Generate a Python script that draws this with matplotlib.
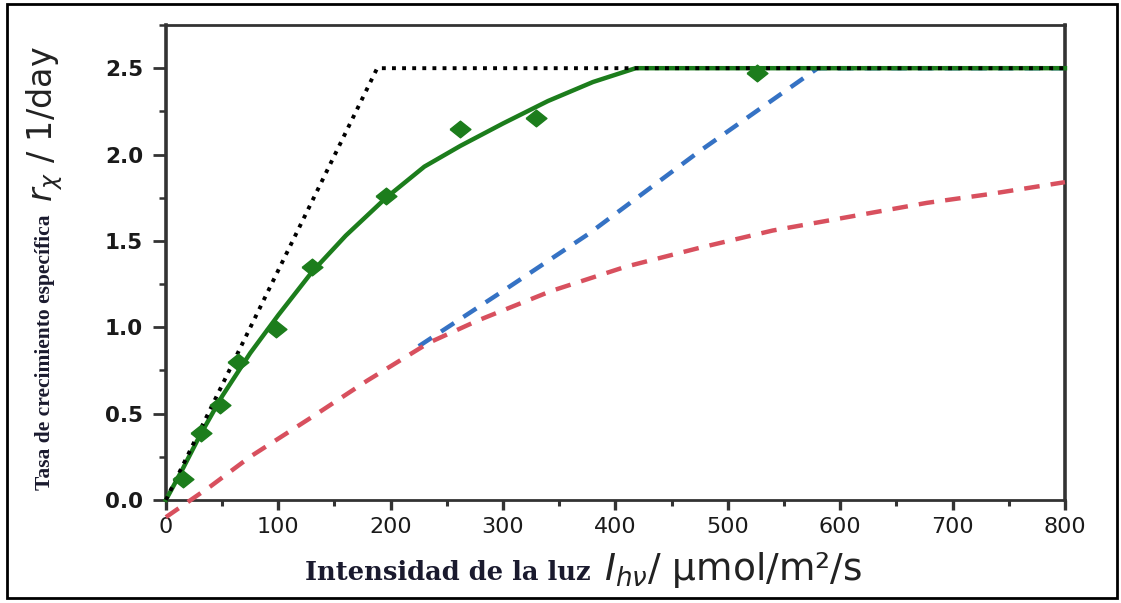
import matplotlib
matplotlib.use("Agg")
import matplotlib.pyplot as plt
from matplotlib.patches import Rectangle
from matplotlib.ticker import MultipleLocator, FormatStrFormatter

plt.rcParams["font.family"] = ["DejaVu Sans"]
plt.rcParams["mathtext.fontset"] = "dejavusans"

# measured points (green diamonds)
meas_I = [15, 31, 48, 64, 98, 130, 196, 262, 329, 526]
meas_r = [0.12, 0.39, 0.55, 0.80, 0.99, 1.35, 1.76, 2.15, 2.21, 2.47]

# fitted model (green solid)
fit_I = [0, 15, 30, 50, 75, 100, 130, 160, 196, 230, 262, 300, 340, 380, 418, 800]
fit_r = [0, 0.18, 0.37, 0.60, 0.85, 1.07, 1.32, 1.53, 1.75, 1.93, 2.05, 2.18, 2.31, 2.42, 2.5, 2.5]

# linear limit (black dotted)
lin_I = [0, 188, 800]
lin_r = [0, 2.5, 2.5]

# blue dashed model
blue_I = [225, 300, 376, 475, 580, 800]
blue_r = [0.89, 1.21, 1.54, 2.02, 2.5, 2.5]

# red dashed model
red_I = [0, 40, 75, 130, 179, 234, 278, 343, 409, 475, 540, 600, 677, 732, 800]
red_r = [-0.10, 0.08, 0.25, 0.48, 0.69, 0.91, 1.04, 1.21, 1.35, 1.46, 1.56, 1.63, 1.72, 1.77, 1.84]

green = "#1c7d1c"
blue = "#3572c4"
red = "#d8505e"

# slightly wide diamond, like the stretched original
diamond = [(-1.25, 0), (0, 1), (1.25, 0), (0, -1), (-1.25, 0)]

fig = plt.figure(figsize=(11.21, 6.03), dpi=100)
ax = fig.add_axes([0.148, 0.171, 0.802, 0.7875])

ax.plot(fit_I, fit_r, color=green, lw=3.2, zorder=3, clip_on=False)
ax.plot(blue_I, blue_r, color=blue, lw=3.2, ls=(0, (3.5, 2.5)), zorder=2, clip_on=False)
ax.plot(red_I, red_r, color=red, lw=3.2, ls=(0, (3.5, 2.5)), zorder=3, clip_on=False)
ax.plot(lin_I, lin_r, color="black", lw=2.8, ls=(0, (1, 1.6)), zorder=4, clip_on=False)
ax.plot(meas_I, meas_r, ls="none", marker=diamond, ms=15, color=green, zorder=5, clip_on=False)

ax.set_xlim(0, 800)
ax.set_ylim(0, 2.75)
ax.xaxis.set_major_locator(MultipleLocator(100))
ax.xaxis.set_minor_locator(MultipleLocator(50))
ax.yaxis.set_major_locator(MultipleLocator(0.5))
ax.yaxis.set_minor_locator(MultipleLocator(0.25))
ax.yaxis.set_major_formatter(FormatStrFormatter("%.1f"))

for side, s in ax.spines.items():
    s.set_color("#333333")
    s.set_linewidth(2.6 if side in ("left", "right") else 2.0)
ax.tick_params(axis="y", which="major", length=9.5, width=2.0, color="#333333")
ax.tick_params(axis="y", which="minor", length=5, width=1.8, color="#333333")
ax.tick_params(axis="x", which="major", length=7.5, width=2.4, color="#333333")
ax.tick_params(axis="x", which="minor", length=4, width=2.2, color="#333333")
ax.tick_params(axis="x", labelsize=16, pad=5, labelcolor="#1a1a1a")
ax.tick_params(axis="y", labelsize=15.5, pad=7, labelcolor="#1a1a1a")
for lab in ax.get_yticklabels():
    lab.set_fontweight("bold")

# axis titles, built from two parts each
fig.text(0.527, 0.038, "Intensidad de la luz", family="DejaVu Serif", weight="bold",
         fontsize=18.5, color="#1a1a2e", ha="right", va="baseline")
fig.text(0.539, 0.038, r"$I_{h\nu}$/ µmol/m²/s", fontsize=27, color="#222222",
         ha="left", va="baseline")

fig.text(0.040, 0.187, "Tasa de crecimiento específica", family="Liberation Serif", weight="bold",
         fontsize=15.5, color="#1a1a2e", rotation=90, ha="center", va="bottom")
fig.text(0.040, 0.665, r"$r_{\chi}$ / 1/day", fontsize=24, color="#222222",
         rotation=90, ha="center", va="bottom")

fig.patches.append(Rectangle((0.006, 0.008), 0.990, 0.986, transform=fig.transFigure,
                             fill=False, lw=2, edgecolor="black"))

fig.savefig("out.png", dpi=100)
